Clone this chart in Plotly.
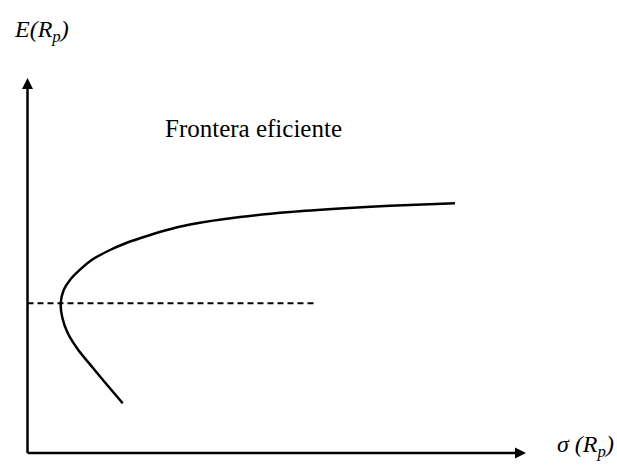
import plotly.graph_objects as go

# Efficient frontier (sigma, expected return), drawn from the lower tip upward
sigma = [1.904, 1.61, 1.31, 1.016, 0.804, 0.698, 0.664, 0.724, 0.85, 1.05,
         1.284, 1.65, 1.95, 2.25, 2.75, 3.25, 4.25, 5.25, 6.25, 7.25, 8.55]
expected = [0.994, 1.34, 1.70, 2.06, 2.40, 2.70, 2.994, 3.26, 3.46, 3.666,
            3.86, 4.06, 4.19, 4.294, 4.45, 4.57, 4.72, 4.82, 4.89, 4.944, 4.994]

# Minimum-variance return level (dashed reference line)
mv_return = 2.994
mv_line_end = 5.75

# Axis lengths
x_axis_end = 9.97
y_axis_end = 7.5

FONT = "Liberation Serif"

fig = go.Figure()

fig.add_trace(go.Scatter(
    x=[0, mv_line_end], y=[mv_return, mv_return], mode="lines",
    line=dict(color="black", width=2, dash="6px,4px"),
    hoverinfo="skip", showlegend=False))

fig.add_trace(go.Scatter(
    x=sigma, y=expected, mode="lines",
    line=dict(color="black", width=2.5, shape="spline", smoothing=0.8),
    hoverinfo="skip", showlegend=False))

# Axes with arrowheads
ah_len, ah_half = 0.22, 0.11
fig.add_shape(type="line", x0=0, y0=0, x1=x_axis_end - ah_len, y1=0,
              line=dict(color="black", width=2.5))
fig.add_shape(type="line", x0=0, y0=0, x1=0, y1=y_axis_end - ah_len,
              line=dict(color="black", width=2.5))
fig.add_shape(type="path",
              path=f"M {x_axis_end},0 L {x_axis_end - ah_len},{ah_half} "
                   f"L {x_axis_end - ah_len},{-ah_half} Z",
              fillcolor="black", line=dict(color="black", width=0))
fig.add_shape(type="path",
              path=f"M 0,{y_axis_end} L {-ah_half},{y_axis_end - ah_len} "
                   f"L {ah_half},{y_axis_end - ah_len} Z",
              fillcolor="black", line=dict(color="black", width=0))

fig.add_annotation(x=-0.32, y=8.44, text="<i>E(R<sub>p</sub>)</i>",
                   showarrow=False, xanchor="left", yanchor="middle",
                   font=dict(family=FONT, size=24, color="black"))
fig.add_annotation(x=2.70, y=6.50, text="Frontera eficiente",
                   showarrow=False, xanchor="left", yanchor="middle",
                   font=dict(family=FONT, size=25, color="black"))
fig.add_annotation(x=10.55, y=0.15, text="<i>σ (R<sub>p</sub>)</i>",
                   showarrow=False, xanchor="left", yanchor="middle",
                   font=dict(family=FONT, size=24, color="black"))

fig.update_layout(
    width=617, height=469,
    margin=dict(l=0, r=0, t=0, b=0),
    paper_bgcolor="white", plot_bgcolor="white",
    xaxis=dict(range=[-0.55, 11.79], visible=False, fixedrange=True),
    yaxis=dict(range=[-0.32, 9.06], visible=False, fixedrange=True),
    showlegend=False,
)

fig.write_html("out.html")
